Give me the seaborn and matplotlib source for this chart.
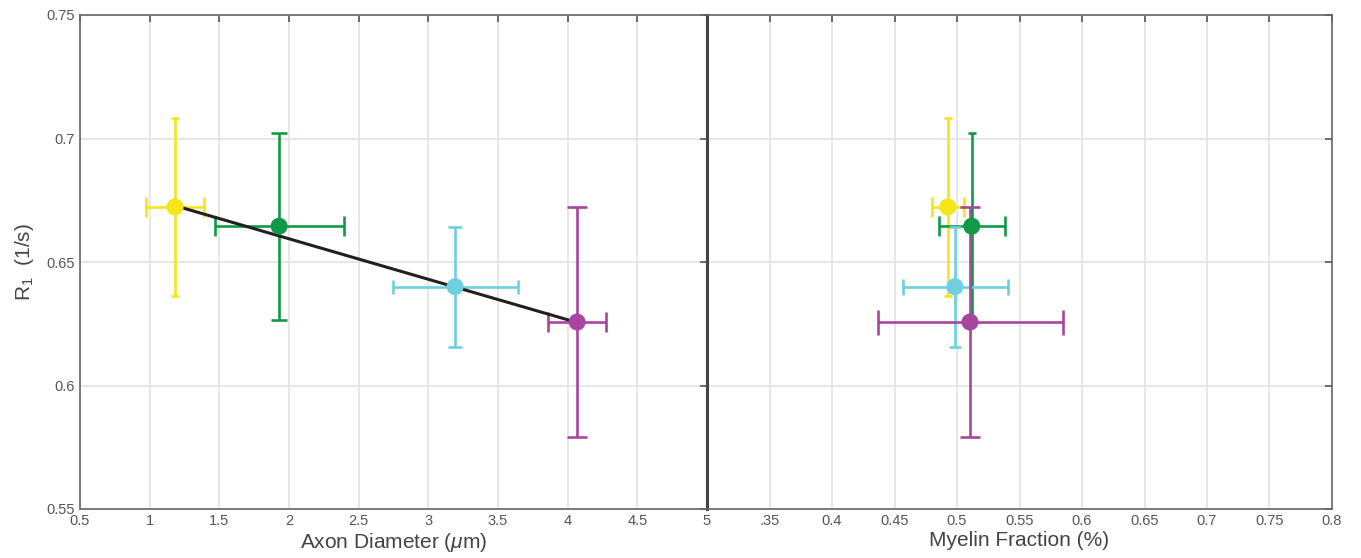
import numpy as np
import pandas as pd
import matplotlib
matplotlib.use('Agg')
import matplotlib.pyplot as plt
import seaborn as sns

# ── Data ──────────────────────────────────────────────────────────────────────
groups      = ['g1', 'g2', 'g3', 'g4']
r1_mean     = [0.6723, 0.6645, 0.6400, 0.6257]
r1_err      = [0.0361, 0.0378, 0.0243, 0.0464]
axon_diam   = [1.182, 1.929, 3.192, 4.068]
axon_err    = [0.208, 0.463, 0.449, 0.210]
myelin_frac = [0.4926, 0.5118, 0.4984, 0.5104]
myelin_err  = [0.0129, 0.0263, 0.0420, 0.0740]

fit_x = [1.182, 4.068]
fit_y = [0.6728, 0.6255]

colors = ['#f5e617', '#109a48', '#6ecfe0', '#a9449f']

df = pd.DataFrame({'group': groups, 'r1': r1_mean, 'r1_err': r1_err,
                   'axon': axon_diam, 'axon_err': axon_err,
                   'myelin': myelin_frac, 'myelin_err': myelin_err})

# cap sizes (points) per group: (y-bar cap, x-bar cap)
caps_left  = [(3, 7), (5.5, 7.5), (5, 5), (7, 7.5)]
caps_right = [(3, 7), (3, 7.5), (4.5, 5.5), (7.5, 9)]

# ── Style ─────────────────────────────────────────────────────────────────────
sns.set_theme(style='white')
plt.rcParams['font.family'] = ['Liberation Sans', 'DejaVu Sans']
plt.rcParams['mathtext.fontset'] = 'custom'
plt.rcParams['mathtext.rm'] = 'Liberation Sans'
plt.rcParams['mathtext.it'] = 'Liberation Sans:italic'

fig = plt.figure(figsize=(13.61, 5.58), dpi=100)
ax1 = fig.add_axes([80/1361, 1 - 509/558, (707-80)/1361, (509-15)/558])
ax2 = fig.add_axes([707/1361, 1 - 509/558, (1332-707)/1361, (509-15)/558])

ylim = (0.55, 0.75)
yticks = [0.55, 0.6, 0.65, 0.7, 0.75]


def draw_panel(ax, xcol, xerrcol, caps):
    for i, row in df.iterrows():
        c = colors[i]
        ax.errorbar(row[xcol], row['r1'], yerr=row['r1_err'], fmt='none',
                    ecolor=c, elinewidth=1.9, capsize=caps[i][0], capthick=1.9,
                    zorder=3)
        ax.errorbar(row[xcol], row['r1'], xerr=row[xerrcol], fmt='none',
                    ecolor=c, elinewidth=1.9, capsize=caps[i][1], capthick=1.9,
                    zorder=3)
    sns.scatterplot(data=df, x=xcol, y='r1', hue='group', palette=colors,
                    s=150, edgecolor='none', legend=False, ax=ax, zorder=5)


def style_axes(ax):
    ax.set_ylim(*ylim)
    ax.set_yticks(yticks)
    ax.grid(True, color='#e3e3e3', linewidth=1.2)
    ax.set_axisbelow(True)
    ax.tick_params(direction='in', length=5, width=1.2, color='#555555',
                   labelcolor='#555555', labelsize=10.5, top=True, right=True)
    for s in ax.spines.values():
        s.set_color('#666666')
        s.set_linewidth(1.2)


# ── Left panel: axon diameter ─────────────────────────────────────────────────
draw_panel(ax1, 'axon', 'axon_err', caps_left)
sns.lineplot(x=fit_x, y=fit_y, color='#231f20', linewidth=2.2, ax=ax1, zorder=4)
ax1.set_xlim(0.5, 5)
ax1.set_xticks(np.arange(0.5, 5.01, 0.5))
ax1.set_xticklabels(['0.5', '1', '1.5', '2', '2.5', '3', '3.5', '4', '4.5', '5'])
style_axes(ax1)
ax1.set_yticklabels(['0.55', '0.6', '0.65', '0.7', '0.75'])
ax1.spines['right'].set_color('#444444')
ax1.spines['right'].set_linewidth(2.2)
ax1.set_xlabel(r'Axon Diameter ($\mu$m)', fontsize=15, color='#444444', labelpad=2)
ax1.set_ylabel(r'R$_1$  (1/s)', fontsize=15, color='#444444', labelpad=8)

# ── Right panel: myelin fraction ──────────────────────────────────────────────
draw_panel(ax2, 'myelin', 'myelin_err', caps_right)
ax2.set_xlim(0.3, 0.8)
ax2.set_xticks(np.arange(0.3, 0.801, 0.05))
ax2.set_xticklabels(['', '.35', '0.4', '0.45', '0.5', '0.55', '0.6', '0.65',
                     '0.7', '0.75', '0.8'])
style_axes(ax2)
ax2.set_yticklabels([])
ax2.spines['left'].set_color('#444444')
ax2.spines['left'].set_linewidth(2.2)
ax2.set_xlabel('Myelin Fraction (%)', fontsize=15, color='#444444', labelpad=2)
ax2.set_ylabel('')

fig.savefig('out.png', dpi=100)
